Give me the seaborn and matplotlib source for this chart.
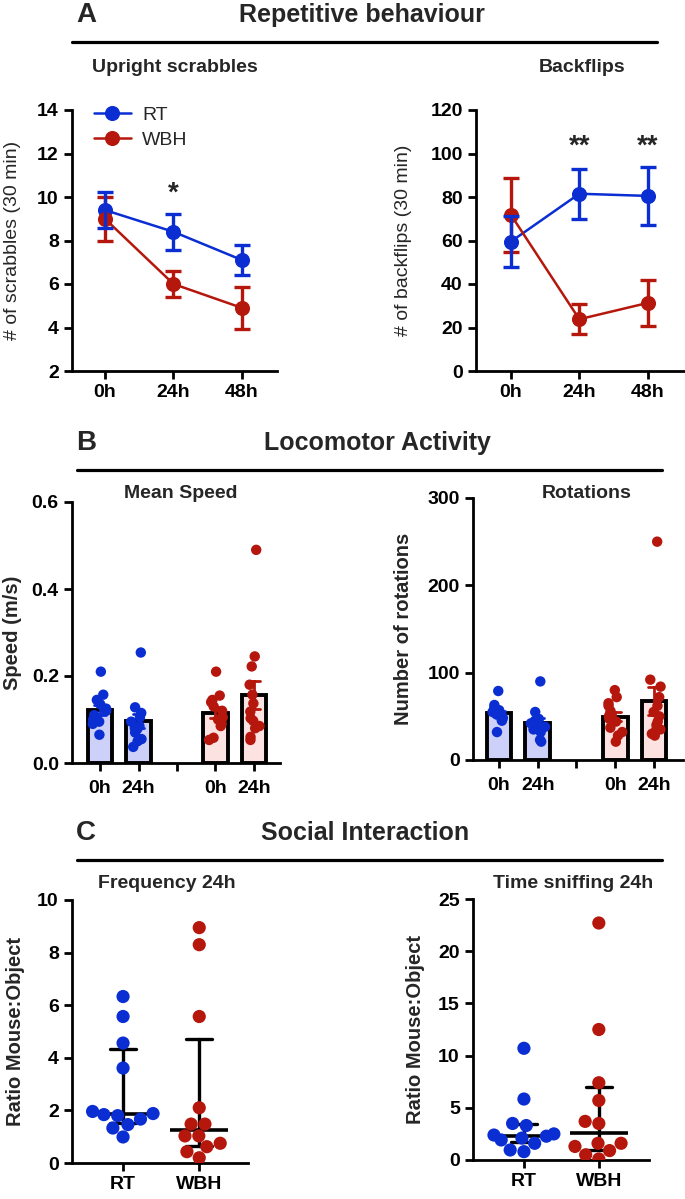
import numpy as np
import pandas as pd
import matplotlib
matplotlib.use("Agg")
import matplotlib.pyplot as plt
from matplotlib.lines import Line2D
import seaborn as sns

W, H = 685, 1199

BLUE = "#0a2ed2"
RED = "#b5170c"
BLUE_FILL = "#cdd0f8"
RED_FILL = "#fde2e2"

# ── A: repetitive behaviour, mean ± SEM ──────────────────────────────────────
times = ["0h", "24h", "48h"]
groups = ["RT", "WBH"]
scrabbles_rt = [9.4, 8.4, 7.1]
scrabbles_rt_sem = [0.82, 0.83, 0.69]
scrabbles_wbh = [9.0, 6.0, 4.9]
scrabbles_wbh_sem = [1.02, 0.61, 0.95]
backflips_rt = [59.5, 81.5, 80.5]
backflips_rt_sem = [11.7, 11.5, 13.4]
backflips_wbh = [71.8, 23.8, 31.3]
backflips_wbh_sem = [17.0, 6.8, 10.7]

# ── B: locomotor activity, individual animals ────────────────────────────────
bar_order = ["RT 0h", "RT 24h", "gap", "WBH 0h", "WBH 24h"]
bar_ticklabels = ["0h", "24h", "", "0h", "24h"]
speed_rt_0h = [0.21, 0.157, 0.145, 0.135, 0.125, 0.12, 0.11, 0.105, 0.10, 0.095, 0.09, 0.065]
speed_rt_24h = [0.254, 0.128, 0.115, 0.105, 0.095, 0.085, 0.08, 0.078, 0.07, 0.055, 0.05, 0.037]
speed_wbh_0h = [0.21, 0.155, 0.145, 0.14, 0.13, 0.12, 0.105, 0.10, 0.09, 0.085, 0.058, 0.053]
speed_wbh_24h = [0.49, 0.245, 0.222, 0.18, 0.157, 0.137, 0.118, 0.103, 0.097, 0.085, 0.08, 0.06, 0.053]
rot_rt_0h = [79, 63, 60, 57, 55, 53, 52, 50, 48, 46, 45, 32]
rot_rt_24h = [90, 55, 47, 45, 44, 42, 40, 38, 35, 32, 23, 21]
rot_wbh_0h = [80, 72, 65, 62, 56, 52, 50, 47, 44, 37, 32, 28, 21]
rot_wbh_24h = [250, 92, 84, 72, 62, 55, 50, 44, 40, 35, 34, 30, 28]

# ── C: social interaction, median with IQR ───────────────────────────────────
freq_rt = [6.33, 5.57, 4.56, 3.61, 1.96, 1.88, 1.84, 1.80, 1.67, 1.46, 1.33, 0.99]
freq_wbh = [8.95, 8.3, 5.57, 2.1, 1.48, 1.48, 1.03, 1.03, 0.75, 0.62, 0.43, 0.2]
sniff_rt = [10.7, 5.84, 3.5, 3.3, 2.5, 2.39, 2.28, 2.1, 1.92, 1.6, 0.96, 0.8]
sniff_wbh = [22.7, 12.5, 7.4, 5.7, 3.7, 3.5, 1.6, 1.6, 1.3, 0.9, 0.5, 0.1]

np.random.seed(3)  # strip jitter only

sns.set_style("ticks")
plt.rcParams.update({
    "font.family": ["Liberation Sans", "DejaVu Sans"],
    "font.weight": "bold",
    "axes.linewidth": 2.0,
    "xtick.major.width": 2.0, "ytick.major.width": 2.0,
    "xtick.major.size": 6, "ytick.major.size": 6,
    "xtick.labelsize": 14, "ytick.labelsize": 14,
    "xtick.color": "black", "ytick.color": "black",
    "axes.edgecolor": "black",
})

fig = plt.figure(figsize=(W / 100, H / 100), dpi=100, facecolor="white")


def px_axes(x0, y_top, x1, y_bot):
    return fig.add_axes([x0 / W, 1 - y_bot / H, (x1 - x0) / W, (y_bot - y_top) / H])


def ftext(x, y, s, size, **kw):
    fig.text(x / W, 1 - y / H, s, fontsize=size, ha="center", va="center",
             fontweight="bold", **kw)


def header(letter, title, y, x_title, x0=72, x1=657):
    ftext(86, y, letter, 20)
    ftext(x_title, y, title, 18)
    fig.add_artist(Line2D([x0 / W, x1 / W], [1 - (y + 27) / H] * 2,
                          transform=fig.transFigure, color="black", lw=2.3))


def finish(ax, ylabel, label_x, weight="bold"):
    sns.despine(ax=ax)
    ax.set_xlabel("")
    ax.set_ylabel(ylabel, fontsize=14.5 if weight == "bold" else 14, fontweight=weight)
    ax.yaxis.set_label_coords(label_x, 0.5)
    for lbl in ax.get_xticklabels() + ax.get_yticklabels():
        lbl.set_fontweight("bold")


# ── Panel A ──────────────────────────────────────────────────────────────────
header("A", "Repetitive behaviour", 15, 362)
ftext(175, 68, "Upright scrabbles", 14)
ftext(582, 68, "Backflips", 14)


def line_panel(ax, rt, rt_sem, wbh, wbh_sem, legend):
    df = pd.DataFrame({"time": times * 2, "group": ["RT"] * 3 + ["WBH"] * 3,
                       "val": rt + wbh})
    for vals, sems, col in [(wbh, wbh_sem, RED), (rt, rt_sem, BLUE)]:
        ax.errorbar(np.arange(len(times)), vals, yerr=sems, fmt="none", ecolor=col,
                    elinewidth=2.4, capsize=6, capthick=2.4, zorder=3)
    sns.pointplot(data=df, x="time", y="val", hue="group", order=times,
                  hue_order=groups, palette={"RT": BLUE, "WBH": RED},
                  errorbar=None, markersize=9.5, linewidth=1.8, legend=legend, ax=ax)
    if legend:
        h, l = ax.get_legend_handles_labels()
        ax.legend(h, l, loc="upper left", bbox_to_anchor=(0.02, 1.08), frameon=False,
                  prop={"weight": "normal", "size": 14}, handlelength=1.9,
                  handletextpad=0.6, labelspacing=0.35)


ax = px_axes(72, 110, 277, 371)
line_panel(ax, scrabbles_rt, scrabbles_rt_sem, scrabbles_wbh, scrabbles_wbh_sem, True)
ax.set_ylim(2, 14)
ax.set_yticks(np.arange(2, 15, 2))
ax.set_xlim(-0.48, 2.51)
ax.text(1, 10.15, "*", ha="center", va="center", fontsize=20, fontweight="bold")
finish(ax, "# of scrabbles (30 min)", -0.25, weight="normal")

ax = px_axes(476, 110, 684, 371)
line_panel(ax, backflips_rt, backflips_rt_sem, backflips_wbh, backflips_wbh_sem, False)
ax.set_ylim(0, 120)
ax.set_yticks(np.arange(0, 121, 20))
ax.set_xlim(-0.51, 2.53)
for xi in [1, 2]:
    ax.text(xi, 103, "**", ha="center", va="center", fontsize=20, fontweight="bold")
finish(ax, "# of backflips (30 min)", -0.31, weight="normal")

# ── Panel B ──────────────────────────────────────────────────────────────────
header("B", "Locomotor Activity", 443, 377, 77, 662)
ftext(181, 493, "Mean Speed", 14)
ftext(587, 493, "Rotations", 14)


def bar_panel(ax, series):
    rows = [(cond, cond.split()[0], v) for cond, vals in series.items() for v in vals]
    df = pd.DataFrame(rows, columns=["cond", "group", "val"])
    for grp, fill, col in [("RT", BLUE_FILL, BLUE), ("WBH", RED_FILL, RED)]:
        sns.barplot(data=df[df.group == grp], x="cond", y="val", order=bar_order,
                    color=fill, saturation=1, errorbar="se", capsize=0.3, width=0.64,
                    err_kws={"color": col, "linewidth": 2}, edgecolor="black",
                    linewidth=2.8, ax=ax)
    sns.stripplot(data=df, x="cond", y="val", order=bar_order, hue="group",
                  palette={"RT": BLUE, "WBH": RED}, size=7.5, jitter=0.2,
                  legend=False, ax=ax)
    ax.set_xticks(range(len(bar_order)))
    ax.set_xticklabels(bar_ticklabels)
    ax.tick_params(axis="x", pad=6)


ax = px_axes(72, 502, 280, 763)
bar_panel(ax, {"RT 0h": speed_rt_0h, "RT 24h": speed_rt_24h,
               "WBH 0h": speed_wbh_0h, "WBH 24h": speed_wbh_24h})
ax.set_ylim(0, 0.6)
ax.set_yticks([0, 0.2, 0.4, 0.6])
ax.set_yticklabels(["0.0", "0.2", "0.4", "0.6"])
ax.set_xlim(-0.73, 4.68)
finish(ax, "Speed (m/s)", -0.24)

ax = px_axes(473, 498, 683, 760)
bar_panel(ax, {"RT 0h": rot_rt_0h, "RT 24h": rot_rt_24h,
               "WBH 0h": rot_wbh_0h, "WBH 24h": rot_wbh_24h})
ax.set_ylim(0, 300)
ax.set_yticks([0, 100, 200, 300])
ax.set_xlim(-0.67, 4.75)
finish(ax, "Number of rotations", -0.285)

# ── Panel C ──────────────────────────────────────────────────────────────────
header("C", "Social Interaction", 833, 365, 77, 662)
ftext(167, 883, "Frequency 24h", 14)
ftext(573, 883, "Time sniffing 24h", 14)


def iqr(x):
    return (np.percentile(x, 25, method="weibull"), np.percentile(x, 75, method="weibull"))


def median_panel(ax, rt, wbh):
    df = pd.DataFrame({"group": ["RT"] * len(rt) + ["WBH"] * len(wbh),
                       "val": rt + wbh})
    sns.swarmplot(data=df, x="group", y="val", order=groups, hue="group",
                  palette={"RT": BLUE, "WBH": RED}, size=9.5, legend=False, ax=ax)
    sns.pointplot(data=df, x="group", y="val", order=groups, estimator=np.median,
                  errorbar=iqr, color="black", linestyle="none", marker="_",
                  markersize=42, markeredgewidth=2.6, capsize=0.34,
                  err_kws={"linewidth": 2.4}, ax=ax)


ax = px_axes(72, 900, 248, 1163)
median_panel(ax, freq_rt, freq_wbh)
ax.set_ylim(0, 10)
ax.set_yticks(np.arange(0, 11, 2))
ax.set_xlim(-0.67, 1.64)
finish(ax, "Ratio Mouse:Object", -0.265)

ax = px_axes(473, 899, 649, 1160)
median_panel(ax, sniff_rt, sniff_wbh)
ax.set_ylim(0, 25)
ax.set_yticks(np.arange(0, 26, 5))
ax.set_xlim(-0.68, 1.67)
finish(ax, "Ratio Mouse:Object", -0.27)

fig.savefig("out.png", dpi=100, facecolor="white")
